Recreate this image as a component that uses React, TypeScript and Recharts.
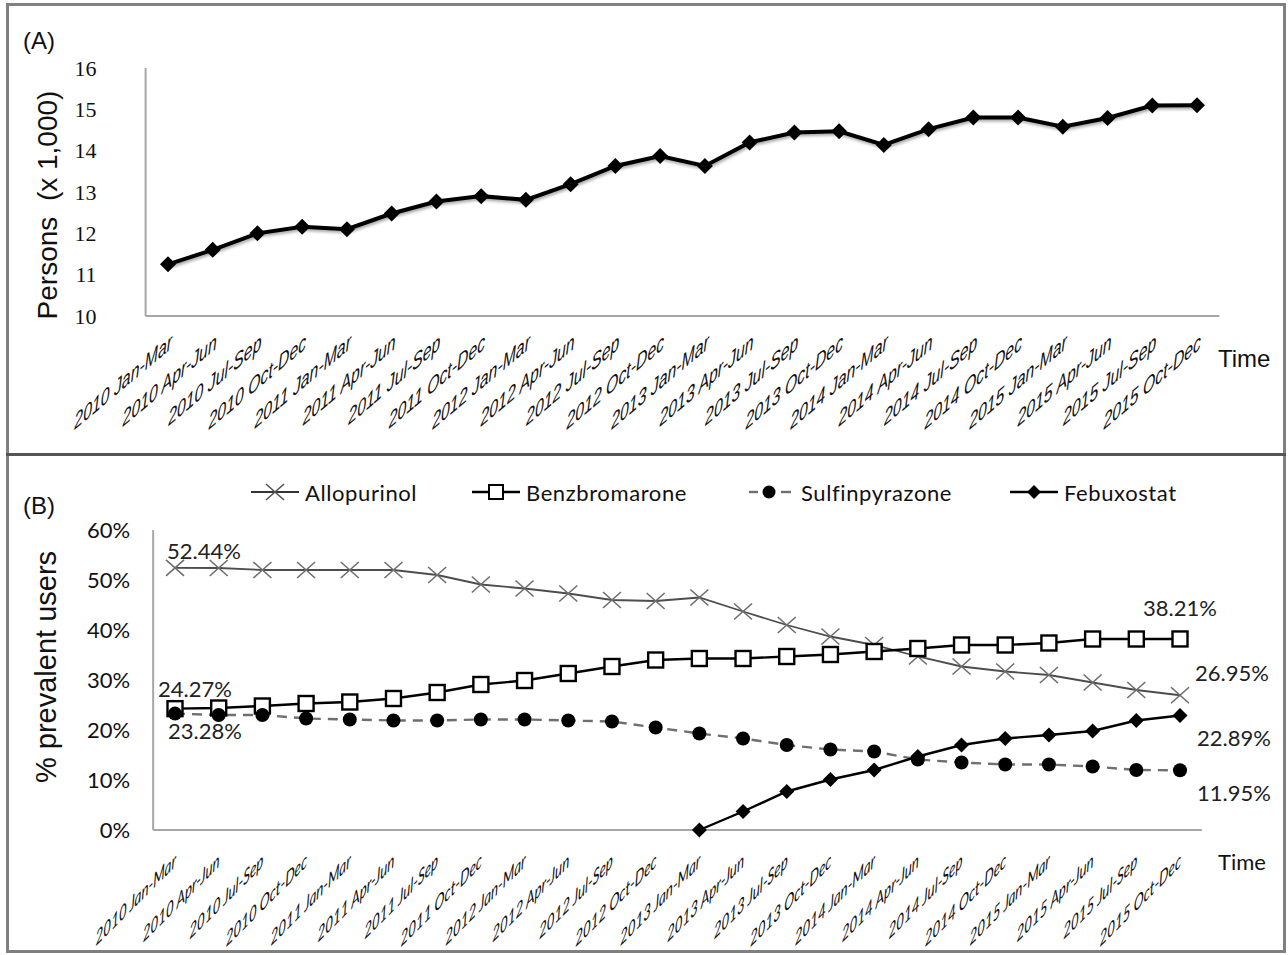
import React from "react";
import { LineChart, Line, XAxis, YAxis } from "recharts";

const quarters = [
  "2010 Jan-Mar", "2010 Apr-Jun", "2010 Jul-Sep", "2010 Oct-Dec",
  "2011 Jan-Mar", "2011 Apr-Jun", "2011 Jul-Sep", "2011 Oct-Dec",
  "2012 Jan-Mar", "2012 Apr-Jun", "2012 Jul-Sep", "2012 Oct-Dec",
  "2013 Jan-Mar", "2013 Apr-Jun", "2013 Jul-Sep", "2013 Oct-Dec",
  "2014 Jan-Mar", "2014 Apr-Jun", "2014 Jul-Sep", "2014 Oct-Dec",
  "2015 Jan-Mar", "2015 Apr-Jun", "2015 Jul-Sep", "2015 Oct-Dec",
];

// panel A, persons x 1,000
const persons = [
  11.25, 11.6, 12.0, 12.16, 12.1, 12.48, 12.77, 12.9, 12.81, 13.19, 13.63, 13.87,
  13.63, 14.2, 14.44, 14.47, 14.14, 14.52, 14.8, 14.8, 14.58, 14.79, 15.09, 15.1,
];
const personTicks = [10, 11, 12, 13, 14, 15, 16];

// panel B, % prevalent users
const allopurinol = [
  52.44, 52.4, 52.0, 52.0, 52.0, 52.0, 51.0, 49.1, 48.3, 47.3, 46.0, 45.8,
  46.5, 43.7, 41.0, 38.7, 37.0, 34.7, 32.7, 31.7, 31.0, 29.5, 28.0, 26.95,
];
const benzbromarone = [
  24.27, 24.4, 24.8, 25.3, 25.6, 26.3, 27.5, 29.1, 29.9, 31.3, 32.7, 34.0,
  34.3, 34.3, 34.7, 35.1, 35.7, 36.3, 37.0, 37.0, 37.4, 38.2, 38.2, 38.21,
];
const sulfinpyrazone = [
  23.28, 23.0, 23.0, 22.3, 22.1, 21.9, 21.9, 22.1, 22.1, 21.9, 21.7, 20.5,
  19.3, 18.3, 17.0, 16.1, 15.7, 14.1, 13.5, 13.1, 13.1, 12.7, 12.0, 11.95,
];
const febuxostat = [
  null, null, null, null, null, null, null, null, null, null, null, null,
  0, 3.7, 7.7, 10.1, 12.0, 14.7, 17.0, 18.3, 19.0, 19.8, 21.9, 22.89,
];
const percentTicks = [0, 10, 20, 30, 40, 50, 60];

const dataA = quarters.map((q, i) => ({ q, persons: persons[i] }));
const dataB = quarters.map((q, i) => ({
  q,
  allo: allopurinol[i],
  benz: benzbromarone[i],
  sulf: sulfinpyrazone[i],
  febu: febuxostat[i],
}));

const AXIS = "#a6a6a6";
const CAL = "Lato, 'Open Sans', sans-serif";
const ARIAL = "'Liberation Sans', Arial, sans-serif";

// slanted, condensed category labels (baseline slanted, glyphs kept upright)
const TickA = ({ x, y, payload }: any) => (
  <g transform={`translate(${x + 4},${y + 32})`}>
    <text transform="skewY(-40) scale(0.72,1)" textAnchor="end" fontFamily={ARIAL} fontStyle="italic" fontSize={22} fill="#111">
      {payload.value}
    </text>
  </g>
);

const TickB = ({ x, y, payload }: any) => (
  <g transform={`translate(${x + 1},${y + 36})`}>
    <text transform="skewY(-45) scale(0.67,1)" textAnchor="end" fontFamily={CAL} fontStyle="italic" fontSize={20} fill="#111">
      {payload.value}
    </text>
  </g>
);

const diamond = (r: number) => (props: any) => {
  const { cx, cy, value, index } = props;
  if (value == null || cx == null || cy == null) return <g key={index} />;
  return (
    <path key={index} d={`M${cx},${cy - r}L${cx + r},${cy}L${cx},${cy + r}L${cx - r},${cy}Z`} fill="#000" />
  );
};

const cross = (props: any) => {
  const { cx, cy, index } = props;
  const rx = 9, ry = 8;
  return (
    <path
      key={index}
      d={`M${cx - rx},${cy - ry}L${cx + rx},${cy + ry}M${cx - rx},${cy + ry}L${cx + rx},${cy - ry}`}
      stroke="#6e6e6e"
      strokeWidth={1.6}
      fill="none"
    />
  );
};

const square = (props: any) => {
  const { cx, cy, index } = props;
  return <rect key={index} x={cx - 7.5} y={cy - 7.5} width={15} height={15} fill="#fff" stroke="#000" strokeWidth={2.4} />;
};

const circle = (props: any) => {
  const { cx, cy, index } = props;
  return <circle key={index} cx={cx} cy={cy} r={7} fill="#000" />;
};

// value labels at first / last points: index -> [dx, dy, anchor]
const valueLabel = (spots: Record<number, [number, number, string]>) => (props: any) => {
  const { x, y, value, index } = props;
  const s = spots[index];
  if (!s || value == null) return null;
  return (
    <text key={index} x={x + s[0]} y={y + s[1]} textAnchor={s[2] as any} fontFamily={CAL} fontSize={22} fill="#222">
      {Number(value).toFixed(2)}%
    </text>
  );
};

const legendItems = [
  { name: "Allopurinol", left: 251, kind: "cross" },
  { name: "Benzbromarone", left: 472, kind: "square" },
  { name: "Sulfinpyrazone", left: 747, kind: "circle" },
  { name: "Febuxostat", left: 1010, kind: "diamond" },
];

const LegendMarker = ({ kind }: { kind: string }) => {
  if (kind === "cross")
    return (
      <svg width={48} height={20}>
        <line x1={0} y1={10} x2={48} y2={10} stroke="#333" strokeWidth={2} />
        <path d="M15,2L33,18M15,18L33,2" stroke="#555" strokeWidth={1.6} />
      </svg>
    );
  if (kind === "square")
    return (
      <svg width={48} height={20}>
        <line x1={0} y1={10} x2={48} y2={10} stroke="#000" strokeWidth={2.4} />
        <rect x={17} y={3} width={14} height={14} fill="#fff" stroke="#000" strokeWidth={2} />
      </svg>
    );
  if (kind === "circle")
    return (
      <svg width={48} height={20}>
        <line x1={2} y1={10} x2={11} y2={10} stroke="#6f6f6f" strokeWidth={2.4} />
        <line x1={34} y1={10} x2={44} y2={10} stroke="#6f6f6f" strokeWidth={2.4} />
        <circle cx={22} cy={10} r={6.5} fill="#000" />
      </svg>
    );
  return (
    <svg width={48} height={20}>
      <line x1={0} y1={10} x2={48} y2={10} stroke="#000" strokeWidth={2.4} />
      <path d="M24,3L31,10L24,17L17,10Z" fill="#000" />
    </svg>
  );
};

const abs = (style: React.CSSProperties): React.CSSProperties => ({ position: "absolute", whiteSpace: "nowrap", ...style });

export default function App() {
  return (
    <div style={{ position: "absolute", left: 0, top: 0, width: 1288, height: 955, background: "#fff", overflow: "hidden" }}>
      <style>{`.shadowLine { filter: drop-shadow(1px 2px 1.5px rgba(0,0,0,0.35)); }`}</style>
      {/* frame */}
      <div style={abs({ left: 6, top: 3, width: 1280, height: 950, border: "3px solid #808080", boxSizing: "border-box" })} />
      <div style={abs({ left: 6, top: 453, width: 1280, height: 3, background: "#555" })} />

      {/* panel A */}
      <div style={abs({ left: 23, top: 29, fontFamily: ARIAL, fontSize: 24, lineHeight: "24px", color: "#111" })}>(A)</div>
      <div
        style={abs({
          left: 48, top: 205, fontFamily: ARIAL, fontSize: 28, color: "#111",
          transform: "translate(-50%, -50%) rotate(-90deg)",
        })}
      >
        Persons&nbsp;&nbsp;(x 1,000)
      </div>
      <div style={abs({ left: 1218, top: 345, fontFamily: "'Liberation Sans Narrow', 'Liberation Sans', Arial", fontSize: 24, lineHeight: "28px", color: "#111" })}>
        Time
      </div>
      <div style={abs({ left: 0, top: 0 })}>
        <LineChart width={1288} height={455} data={dataA} margin={{ top: 68, right: 68.6, bottom: 19, left: 0 }}>
          <XAxis
            dataKey="q"
            interval={0}
            tick={<TickA />}
            tickLine={false}
            tickSize={0}
            tickMargin={0}
            height={120}
            padding={{ left: 22.37, right: 22.37 }}
            axisLine={{ stroke: AXIS, strokeWidth: 2 }}
          />
          <YAxis
            type="number"
            domain={[10, 16]}
            ticks={personTicks}
            interval={0}
            width={145.6}
            tickLine={false}
            tickSize={0}
            tickMargin={49}
            axisLine={{ stroke: AXIS, strokeWidth: 2 }}
            tick={{ fontFamily: "'Liberation Serif', 'Times New Roman', serif", fontSize: 22, fill: "#111" }}
          />
          <Line
            className="shadowLine"
            dataKey="persons"
            stroke="#000"
            strokeWidth={4}
            dot={diamond(8)}
            activeDot={false}
            isAnimationActive={false}
          />
        </LineChart>
      </div>

      {/* panel B */}
      <div style={abs({ left: 23, top: 494, fontFamily: ARIAL, fontSize: 24, lineHeight: "24px", color: "#111" })}>(B)</div>
      <div
        style={abs({
          left: 46, top: 667, fontFamily: ARIAL, fontSize: 29, color: "#111",
          transform: "translate(-50%, -50%) rotate(-90deg)",
        })}
      >
        % prevalent users
      </div>
      <div style={abs({ left: 1218, top: 848, fontFamily: CAL, fontSize: 22, lineHeight: "28px", color: "#111" })}>Time</div>
      {legendItems.map((it) => (
        <div key={it.name} style={abs({ left: it.left, top: 480, height: 24, display: "flex", alignItems: "center", gap: 6 })}>
          <LegendMarker kind={it.kind} />
          <span style={{ fontFamily: CAL, fontSize: 22, letterSpacing: 0.6, color: "#111" }}>{it.name}</span>
        </div>
      ))}
      <div style={abs({ left: 0, top: 455 })}>
        <LineChart width={1288} height={500} data={dataB} margin={{ top: 75, right: 86.15, bottom: 5, left: 0 }}>
          <XAxis
            dataKey="q"
            interval={0}
            tick={<TickB />}
            tickLine={false}
            tickSize={0}
            tickMargin={0}
            height={120}
            padding={{ left: 21.85, right: 21.85 }}
            axisLine={{ stroke: AXIS, strokeWidth: 2 }}
          />
          <YAxis
            type="number"
            domain={[0, 60]}
            ticks={percentTicks}
            interval={0}
            width={153.15}
            tickLine={false}
            tickSize={0}
            tickMargin={23}
            tickFormatter={(v: number) => `${v}%`}
            axisLine={{ stroke: AXIS, strokeWidth: 2 }}
            tick={{ fontFamily: CAL, fontSize: 22, fill: "#111" }}
          />
          <Line
            dataKey="allo"
            stroke="#4d4d4d"
            strokeWidth={1.8}
            dot={cross}
            activeDot={false}
            isAnimationActive={false}
            label={valueLabel({ 0: [-8, -9, "start"], 23: [15, -14, "start"] })}
          />
          <Line
            dataKey="benz"
            stroke="#000"
            strokeWidth={2.4}
            dot={square}
            activeDot={false}
            isAnimationActive={false}
            label={valueLabel({ 0: [-17, -12, "start"], 23: [0, -23, "middle"] })}
          />
          <Line
            dataKey="sulf"
            stroke="#6f6f6f"
            strokeWidth={2.4}
            strokeDasharray="10 7"
            dot={circle}
            activeDot={false}
            isAnimationActive={false}
            label={valueLabel({ 0: [-7, 25, "start"], 23: [17, 31, "start"] })}
          />
          <Line
            dataKey="febu"
            stroke="#000"
            strokeWidth={2.4}
            dot={diamond(7.5)}
            activeDot={false}
            isAnimationActive={false}
            label={valueLabel({ 23: [17, 30, "start"] })}
          />
        </LineChart>
      </div>
    </div>
  );
}
